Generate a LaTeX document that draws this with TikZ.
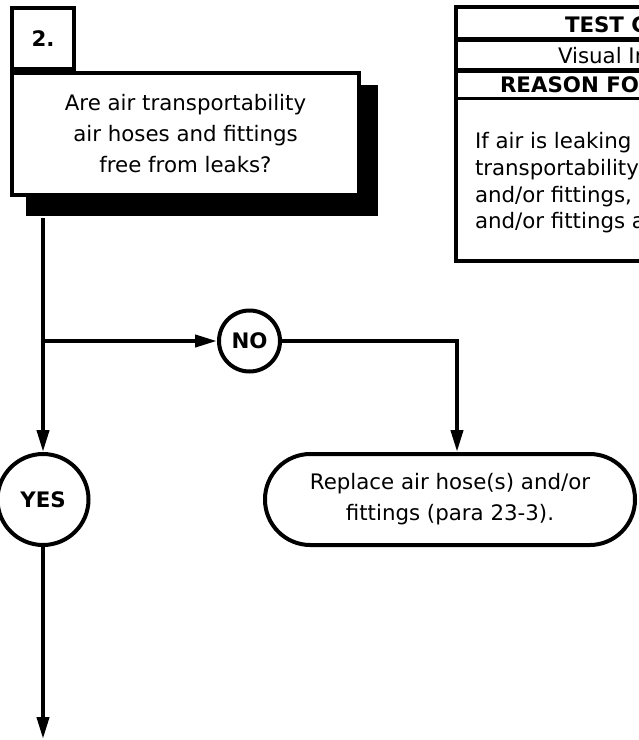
\documentclass[tikz,border=0pt]{standalone}
\usepackage{fontspec}
\setmainfont{DejaVu Sans}
\usetikzlibrary{arrows.meta,positioning,calc}

\begin{document}
\begin{tikzpicture}[x=0.75pt,y=-0.75pt,line width=3pt,
>={Triangle[length=16.5pt,width=9pt]},
stepno/.style={rectangle,draw,fill=white,minimum width=46.5pt,minimum height=45.75pt,inner sep=0pt,font=\fontsize{16}{19}\selectfont\bfseries},
question/.style={rectangle,draw,fill=white,minimum width=260.25pt,minimum height=91.5pt,inner sep=0pt,align=center,font=\fontsize{16}{23.25}\selectfont},
shade/.style={rectangle,fill=black,minimum width=264pt,minimum height=98.25pt,inner sep=0pt},
answer/.style={circle,draw,fill=white,inner sep=0pt,font=\fontsize{16}{19}\selectfont\bfseries},
action/.style={rectangle,rounded corners=34pt,draw,fill=white,minimum width=277.5pt,minimum height=68.25pt,inner sep=0pt,align=center,font=\fontsize{16}{23.25}\selectfont},
cell/.style={inner sep=0pt,anchor=base west,font=\fontsize{16}{20}\selectfont}]

\useasboundingbox (0,0) rectangle (639,740);
\clip (0,0) rectangle (639,740);

% question block
\node[shade] (q2s) at (202,150.5) {};
\node[question] (q2) at (185.5,134) {Are air transportability\\air hoses and fittings\\free from leaks?};
\node[stepno] (n2) at (43,38.5) {2.};

% answers
\node[answer,minimum size=45.75pt] (no) at (249.5,341) {NO};
\node[answer,minimum size=68.25pt] (yes) at (43,499.5) {YES};
\node[action] (fix) at (450,499.5) {Replace air hose(s) and/or\\fittings (para 23-3).};
\coordinate (next) at (43,739);

\draw[->] (q2s.south -| yes) -- (yes);
\draw[->] (yes |- no) -- (no);
\draw[->] (no) -| ([xshift=5.25pt]fix.north);
\draw[->] (yes) -- (next);

% test table
\draw (700,6.5) -- (456,6.5) -- (456,260.5) -- (700,260.5);
\draw[line width=3.2pt] (456,39.5) -- (700,39.5);
\draw[line width=3.2pt] (456,70.5) -- (700,70.5);
\draw[line width=2.4pt] (456,98.5) -- (700,98.5);
\node[cell,font=\fontsize{16}{20}\selectfont\bfseries] (t1) at (563,32) {TEST C};
\node[cell] (t2) at (556,63) {Visual In};
\node[cell,font=\fontsize{16}{20}\selectfont\bfseries] (t3) at (498,92) {REASON FO};
\node[cell] (b1) at (473,148) {If air is leaking};
\node[cell] (b2) at (473,175) {transportability};
\node[cell] (b3) at (473,202) {and/or fittings,};
\node[cell] (b4) at (473,228) {and/or fittings a};
\end{tikzpicture}
\end{document}
